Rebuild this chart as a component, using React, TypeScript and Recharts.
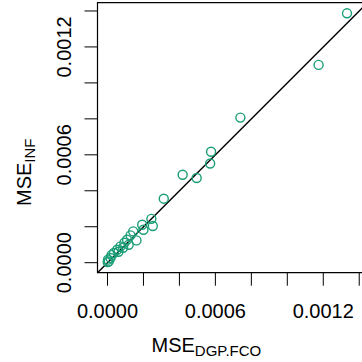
import React from "react";
import { ScatterChart, Scatter, XAxis, YAxis, ReferenceLine, ReferenceArea } from "recharts";

const mseDgpFco = [
  0.001332, 0.001174, 0.000739, 0.000576, 0.000571, 0.000418, 0.000496, 0.000313,
  0.000244, 0.000252, 0.000193, 0.0002, 0.000143, 0.000161, 0.000109, 0.000118,
  0.000072, 0.000087, 0.000054, 0.000035, 0.000022, 0.000017, 0.000007, 0.000003,
  0.000001, 0.000061, 0.000094, 0.000128,
];
const mseInf = [
  0.001387, 0.0011, 0.000807, 0.000617, 0.000552, 0.000489, 0.000471, 0.000356,
  0.000244, 0.000204, 0.000211, 0.000183, 0.000174, 0.000124, 0.000128, 0.0001,
  0.000091, 0.000083, 0.000072, 0.000054, 0.000042, 0.000026, 0.000007, 0.000017,
  0.000003, 0.000061, 0.000111, 0.000152,
];

const axisTicks = [0, 0.0002, 0.0004, 0.0006, 0.0008, 0.001, 0.0012, 0.0014];
const axisTickLabels = ["0.0000", "", "", "0.0006", "", "", "0.0012", ""];

const xTitle = "MSE";
const xTitleSub = "DGP.FCO";
const yTitle = "MSE";
const yTitleSub = "INF";

const DOMAIN: [number, number] = [-0.0000556, 0.001446];
const GREEN = "#1B9E77";
const FONT = "'Liberation Sans', Arial, sans-serif";

const data = mseDgpFco.map((x, i) => ({ x, y: mseInf[i] }));

const labelFor = (v: number) => {
  const idx = axisTicks.findIndex((t) => Math.abs(t - v) < 1e-9);
  return idx >= 0 ? axisTickLabels[idx] : "";
};

const XTick = (props: any) => {
  const { payload } = props;
  const label = labelFor(payload.value);
  if (!label) return null;
  return (
    <text x={payload.coordinate} y={318} textAnchor="middle" fontSize={20} fontFamily={FONT} fill="#000">
      {label}
    </text>
  );
};

const YTick = (props: any) => {
  const { payload } = props;
  const label = labelFor(payload.value);
  if (!label) return null;
  const cx = 71;
  const cy = payload.coordinate;
  return (
    <text
      x={cx}
      y={cy}
      transform={`rotate(-90, ${cx}, ${cy})`}
      textAnchor="middle"
      fontSize={20}
      fontFamily={FONT}
      fill="#000"
    >
      {label}
    </text>
  );
};

const Ring = (props: any) => {
  const { cx, cy } = props;
  if (cx == null || cy == null) return null;
  return <circle cx={cx} cy={cy} r={4.5} fill="none" stroke={GREEN} strokeWidth={1.4} />;
};

export default function App() {
  return (
    <div style={{ position: "fixed", left: 0, top: 0, width: 362, height: 362, overflow: "hidden", background: "#fff" }}>
      <ScatterChart width={380} height={362} margin={{ top: 2.7, right: 12.5, bottom: 29.3, left: 7.5 }}>
        <XAxis
          type="number"
          dataKey="x"
          domain={DOMAIN}
          ticks={axisTicks}
          allowDataOverflow
          axisLine={false}
          tickLine={{ stroke: "#000", strokeWidth: 1 }}
          tickSize={13}
          height={60}
          tick={<XTick />}
          interval={0}
        />
        <YAxis
          type="number"
          dataKey="y"
          domain={DOMAIN}
          ticks={axisTicks}
          allowDataOverflow
          axisLine={false}
          tickLine={{ stroke: "#000", strokeWidth: 1 }}
          tickSize={13}
          width={90}
          tick={<YTick />}
          interval={0}
        />
        <ReferenceArea
          x1={DOMAIN[0]}
          x2={DOMAIN[1]}
          y1={DOMAIN[0]}
          y2={DOMAIN[1]}
          fill="none"
          fillOpacity={0}
          stroke="#000"
          strokeWidth={1.2}
          ifOverflow="visible"
        />
        <Scatter data={data} shape={<Ring />} isAnimationActive={false} />
        <ReferenceLine
          segment={[
            { x: DOMAIN[0], y: DOMAIN[0] },
            { x: DOMAIN[1], y: DOMAIN[1] },
          ]}
          stroke="#000"
          strokeWidth={1.4}
          ifOverflow="visible"
        />
        <text x={151.5} y={352} textAnchor="start" fontSize={20} fontFamily={FONT} fill="#000">
          <tspan>{xTitle}</tspan>
          <tspan fontSize={15} dy={4}>{xTitleSub}</tspan>
        </text>
        <text
          x={30.5}
          y={206}
          transform="rotate(-90, 30.5, 206)"
          textAnchor="start"
          fontSize={20}
          fontFamily={FONT}
          fill="#000"
        >
          <tspan>{yTitle}</tspan>
          <tspan fontSize={15} dy={4}>{yTitleSub}</tspan>
        </text>
      </ScatterChart>
    </div>
  );
}
